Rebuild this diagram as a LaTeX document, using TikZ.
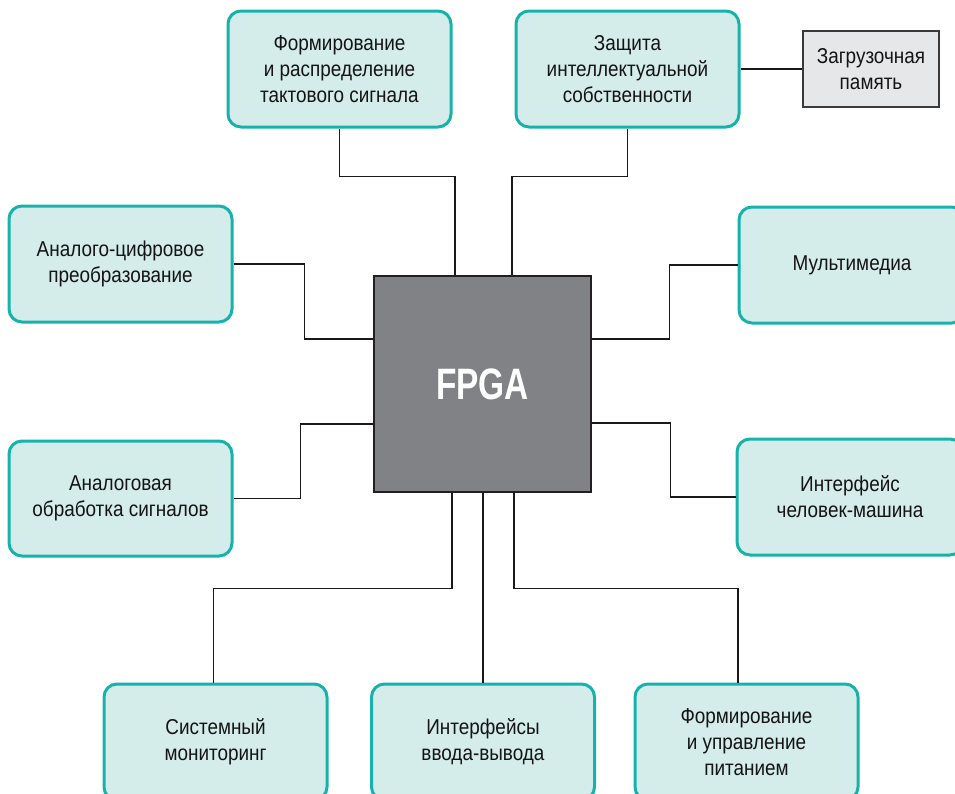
\documentclass[tikz,border=0pt]{standalone}
\usepackage{fontspec}
\setmainfont{Liberation Sans}[FakeStretch=0.88]
\newfontfamily\fpgafont{Liberation Sans}[FakeStretch=0.76]
\usetikzlibrary{positioning}
\definecolor{tealborder}{HTML}{17B2AC}
\definecolor{tealfill}{HTML}{D4ECEA}
\definecolor{fpgafill}{HTML}{808285}
\definecolor{fpgaborder}{HTML}{231F20}
\definecolor{bootfill}{HTML}{E6E7E8}
\definecolor{bootborder}{HTML}{3A3A3A}
\tikzset{
  block/.style={draw=tealborder, fill=tealfill, line width=3pt, rounded corners=13pt,
    align=center, inner sep=0pt, font=\fontsize{21.5}{26}\selectfont, text=black!92},
  bootbox/.style={draw=bootborder, fill=bootfill, line width=1.5pt,
    align=center, inner sep=0pt, font=\fontsize{21.5}{26}\selectfont, text=black!92,
    minimum width=136pt, minimum height=76pt},
  chip/.style={draw=fpgaborder, fill=fpgafill, line width=1.5pt, inner sep=0pt,
    minimum width=217pt, minimum height=216pt, text=white,
    font=\fpgafont\bfseries\fontsize{44}{50}\selectfont},
  conn/.style={draw=black!90, line width=1.3pt}
}
\begin{document}
\begin{tikzpicture}[x=1pt, y=-1pt]
\useasboundingbox (0,0) rectangle (955,793);
\clip (0,0) rectangle (955,793);
\fill[white] (0,0) rectangle (955,793);

\node[chip] (fpga) at (482.5,384) {FPGA};

\node[block, minimum width=223pt, minimum height=116pt] (clk) at (339.5,69)
  {Формирование\\и распределение\\тактового сигнала};
\node[block, minimum width=223pt, minimum height=116pt] (ip) at (627.5,69)
  {Защита\\интеллектуальной\\собственности};
\node[bootbox] (boot) at (871,69) {Загрузочная\\память};

\node[block, minimum width=223pt, minimum height=116pt] (adc) at (120.5,264)
  {Аналого-цифровое\\преобразование};
\node[block, minimum width=223pt, minimum height=115pt] (asp) at (120.5,498.5)
  {Аналоговая\\обработка сигналов};

\node[block, minimum width=226pt, minimum height=116pt] (mm) at (852,265)
  {Мультимедиа};
\node[block, minimum width=226pt, minimum height=116pt] (hmi) at (850,497)
  {Интерфейс\\человек-машина};

\node[block, minimum width=223pt, minimum height=116pt] (mon) at (215.5,742)
  {Системный\\мониторинг};
\node[block, minimum width=223pt, minimum height=116pt] (io) at (483,742)
  {Интерфейсы\\ввода-вывода};
\node[block, minimum width=223pt, minimum height=116pt] (pwr) at (746.5,742)
  {Формирование\\и управление\\питанием};

\coordinate (t1) at ([xshift=-27.5pt]fpga.north);
\coordinate (t2) at ([xshift=29.5pt]fpga.north);
\coordinate (l1) at ([yshift=45pt]fpga.west);
\coordinate (l2) at ([yshift=-40pt]fpga.west);
\coordinate (r1) at ([yshift=45pt]fpga.east);
\coordinate (r2) at ([yshift=-39pt]fpga.east);
\coordinate (b1) at ([xshift=-30.5pt]fpga.south);
\coordinate (b3) at ([xshift=31.5pt]fpga.south);
\coordinate (p3) at ([xshift=-8.5pt]pwr.north);

\draw[conn] (clk.south) -- ++(0,48) -| (t1);
\draw[conn] (ip.south) -- ++(0,48) -| (t2);
\draw[conn] (ip.east) -- (boot.west);
\draw[conn] (adc.east) -- ++(71,0) |- (l1);
\draw[conn] (asp.east) -- ++(67,0) |- (l2);
\draw[conn] (r1) -- ++(78,0) |- (mm.west);
\draw[conn] (r2) -- ++(79,0) |- (hmi.west);
\draw[conn] (b1) -- ++(0,96) -| ([xshift=-2pt]mon.north);
\draw[conn] (io.north) -- (io.north |- fpga.south);
\draw[conn] (b3) -- ++(0,96) -| (p3);
\end{tikzpicture}
\end{document}
